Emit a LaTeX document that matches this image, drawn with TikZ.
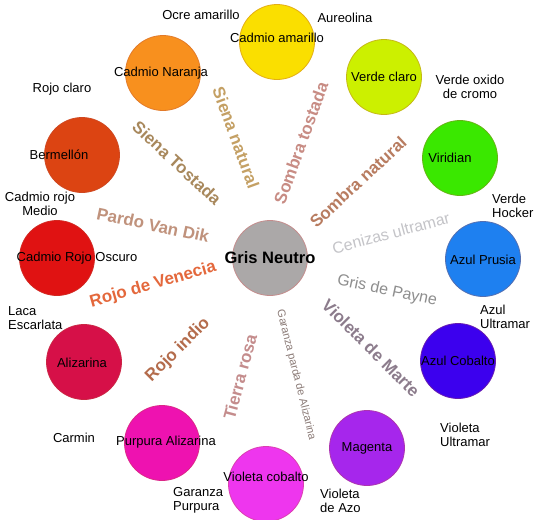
\documentclass[tikz,border=0pt]{standalone}
\usepackage{fontspec}
\setmainfont{Liberation Sans}
\usetikzlibrary{calc}
\definecolor{rim}{HTML}{B8503C}
% pigments of the ring
\definecolor{cAmarillo}{HTML}{FADF00}
\definecolor{cVerde}{HTML}{CCF000}
\definecolor{cViridian}{HTML}{3AE800}
\definecolor{cPrusia}{HTML}{1E80F0}
\definecolor{cCobalto}{HTML}{3C00EE}
\definecolor{cMagenta}{HTML}{A626EC}
\definecolor{cVioleta}{HTML}{EE36EE}
\definecolor{cPurpura}{HTML}{EE12B0}
\definecolor{cAlizarina}{HTML}{D61048}
\definecolor{cRojo}{HTML}{E01212}
\definecolor{cBermellon}{HTML}{DC4412}
\definecolor{cNaranja}{HTML}{F8901E}
\definecolor{cGris}{HTML}{ABA8A8}
% earth tones
\definecolor{tSienaN}{HTML}{C4A064}
\definecolor{tSombraT}{HTML}{C88C84}
\definecolor{tSombraN}{HTML}{B87C60}
\definecolor{tSienaT}{HTML}{A8885C}
\definecolor{tPardo}{HTML}{C0927C}
\definecolor{tVenecia}{HTML}{E4683C}
\definecolor{tIndio}{HTML}{B46C4C}
\definecolor{tTierra}{HTML}{C48C8C}
\definecolor{tGaranza}{HTML}{8C7C78}
\definecolor{tMarte}{HTML}{8C7C8C}
\definecolor{tPayne}{HTML}{8E8E8E}
\definecolor{tCenizas}{HTML}{C4C4C8}

\begin{document}
\begin{tikzpicture}[x=1pt,y=1pt,
   paint/.style={circle,draw=#1!65!rim,fill=#1,line width=0.8pt,minimum size=75pt,inner sep=0pt},
   paintname/.style={font=\fontsize{13}{14}\selectfont,text=black,inner sep=0pt},
   aside/.style={font=\fontsize{13}{14}\selectfont,inner sep=0pt},
   pigment/.style={font=\bfseries\fontsize{17}{17}\selectfont,text=#1,inner sep=0pt},
   thinpigment/.style={font=\fontsize{16}{16}\selectfont,text=#1,inner sep=0pt}]
  \useasboundingbox[fill=white] (0,0) rectangle (542,-520);

  % centre
  \node[paint=cGris,draw=tTierra] (gris) at (270,-258) {};
  \node[font=\bfseries\fontsize{16.5}{17}\selectfont,inner sep=0pt] (gris-t) at (gris) {Gris Neutro};

  % ring of colours
  \foreach \nm/\x/\y/\col/\dx/\dy/\txt in {
      amarillo/277/-42/cAmarillo/0/4/Cadmio amarillo,
      verde/384/-77/cVerde/0/0/Verde claro,
      viridian/460/-158/cViridian/-10/0/Viridian,
      prusia/483/-259/cPrusia/0/-1/Azul Prusia,
      cobalto/458/-361/cCobalto/0/0/Azul Cobalto,
      magenta/367/-448/cMagenta/0/0/Magenta,
      violeta/266/-484/cVioleta/0/7/Violeta cobalto,
      purpura/162/-443/cPurpura/4/1/Purpura Alizarina,
      alizarina/84/-362/cAlizarina/-2/-1/Alizarina,
      rojo/57/-258/cRojo/20/0/Cadmio Rojo Oscuro,
      bermellon/82/-155/cBermellon/-23/0/Bermellón,
      naranja/163/-73/cNaranja/-2/0/Cadmio Naranja}
  {
    \node[paint=\col] (\nm) at (\x,\y) {};
    \node[paintname] (\nm-t) at ($(\nm)+(\dx,\dy)$) {\txt};
  }

  % names beside the ring
  \node[aside] (ocre) at (201,-15) {Ocre amarillo};
  \node[aside] (aureolina) at (345,-18) {Aureolina};
  \node[aside,align=center] (oxido) at (470,-87) {Verde oxido\\de cromo};
  \node[aside,align=left,anchor=west] (hocker) at (492,-206) {Verde\\Hocker};
  \node[aside,align=left,anchor=west] (ultramar) at (480,-317) {Azul\\Ultramar};
  \node[aside,align=left,anchor=west] (vultramar) at (440,-435) {Violeta\\Ultramar};
  \node[aside,align=left,anchor=west] (azo) at (320,-501) {Violeta\\de Azo};
  \node[aside,align=left,anchor=west] (gpurpura) at (173,-500) {Garanza\\Purpura};
  \node[aside] (carmin) at (74,-438) {Carmin};
  \node[aside,align=left,anchor=west] (laca) at (8,-318) {Laca\\Escarlata};
  \node[aside,align=center] (medio) at (40,-204) {Cadmio rojo\\Medio};
  \node[aside] (claro) at (62,-89) {Rojo claro};

  % earth and grey tones round the centre
  \node[pigment=tSienaN,rotate=-70] (sienaN) at (236,-138) {Siena natural};
  \node[pigment=tSombraT,rotate=70] (sombraT) at (301,-143) {Sombra tostada};
  \node[pigment=tSombraN,rotate=43] (sombraN) at (358,-182) {Sombra natural};
  \node[pigment=tSienaT,rotate=-43] (sienaT) at (177,-163) {Siena Tostada};
  \node[pigment=tPardo,rotate=-12] (pardo) at (153,-225) {Pardo Van Dik};
  \node[pigment=tVenecia,rotate=16] (venecia) at (153,-285) {Rojo de Venecia};
  \node[pigment=tIndio,rotate=45] (indio) at (178,-350) {Rojo indio};
  \node[pigment=tTierra,rotate=75] (tierra) at (240,-377) {Tierra rosa};
  \node[font=\fontsize{11}{11}\selectfont,text=tGaranza,inner sep=0pt,rotate=-76] (garanza) at (296,-375) {Garanza parda de Alizarina};
  \node[pigment=tMarte,rotate=-45] (marte) at (371,-348) {Violeta de Marte};
  \node[thinpigment=tPayne,rotate=-12] (payne) at (387,-291) {Gris de Payne};
  \node[thinpigment=tCenizas,rotate=15] (cenizas) at (391,-233) {Cenizas ultramar};
\end{tikzpicture}
\end{document}
